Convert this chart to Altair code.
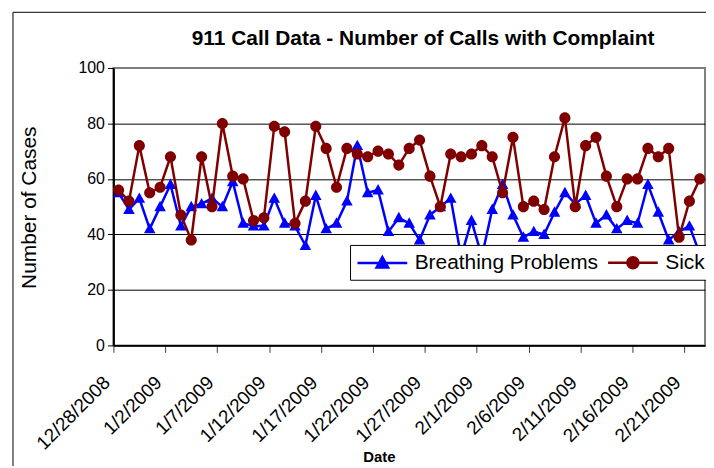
import altair as alt
import pandas as pd

# ---- data ----
dates = pd.date_range("2008-12-28 12:00", periods=57, freq="D").strftime("%Y-%m-%dT%H:%M:%S").tolist()
series_names = ["Breathing Problems", "Sick"]
breathing = [55, 49, 53, 42, 50, 58, 43, 50, 51, 53, 50, 59, 44, 43, 43, 53, 44, 43, 36,
             54, 42, 44, 52, 72, 55, 56, 41, 46, 44, 38, 47, 50, 53, 32, 45, 32, 49, 58,
             47, 39, 41, 40, 48, 55, 51, 54, 44, 47, 42, 45, 44, 58, 48, 38, 41, 43, 33]
sick = [56, 52, 72, 55, 57, 68, 47, 38, 68, 50, 80, 61, 60, 45, 46, 79, 77, 44, 52,
        79, 71, 57, 71, 69, 68, 70, 69, 65, 71, 74, 61, 50, 69, 68, 69, 72, 68, 55,
        75, 50, 52, 49, 68, 82, 50, 72, 75, 61, 50, 60, 60, 71, 68, 71, 39, 52, 60]
y_ticks = [0, 20, 40, 60, 80, 100]
tick_days = pd.date_range("2008-12-28", "2009-02-21", freq="5D")
colors = ["#0000FF", "#800000"]

df = pd.DataFrame({
    "date": dates + dates,
    "value": breathing + sick,
    "series": [series_names[0]] * len(dates) + [series_names[1]] * len(dates),
})

tick_values = [alt.DateTime(year=d.year, month=d.month, date=d.day) for d in tick_days]

tri_path = "M-2.5,0H2.5M0,-0.6L0.58,0.45L-0.58,0.45Z"
circ_path = "M-2.5,0H2.5M0.56,0A0.56,0.56,0,1,1,-0.56,0A0.56,0.56,0,1,1,0.56,0Z"

FONT = "Liberation Sans"

legend_kw = dict(
    orient="none", legendX=238, legendY=178, direction="horizontal",
    labelFontSize=21, labelFont=FONT, labelColor="black", labelLimit=400,
    symbolSize=400, symbolStrokeWidth=2.5, symbolOffset=15,
    labelOffset=21, columnPadding=4, padding=6,
    strokeColor="black", fillColor="white",
)

x_enc = alt.X(
    "date:T",
    scale=alt.Scale(domain=[alt.DateTime(year=2008, month=12, date=28),
                            alt.DateTime(year=2009, month=2, date=23)], nice=False),
    axis=alt.Axis(
        values=tick_values, format="%-m/%-d/%Y", formatType="time",
        labelAngle=315, labelAlign="right", labelBaseline="middle",
        labelFontSize=19, labelPadding=27, labelOffset=-7, labelOverlap=False,
        tickSize=7, tickColor="#404040", domainColor="black", domainWidth=2,
        grid=False, title="Date", titleFontSize=15, titleFontWeight="bold",
        titleX=267, titleY=117, titleAlign="center", titleBaseline="alphabetic",
    ),
)
y_enc = alt.Y(
    "value:Q",
    scale=alt.Scale(domain=[0, 100], nice=False),
    axis=alt.Axis(
        values=y_ticks, grid=True,
        gridColor={"condition": {"test": "datum.value === 100", "value": "#808080"}, "value": "black"},
        gridWidth=1, tickSize=6, tickColor="black", domainColor="black", domainWidth=2,
        labelFontSize=16, labelPadding=3,
        title="Number of Cases", titleFontSize=21, titleFontWeight="normal",
        titleX=-84, titleY=140, titleAlign="center", titleBaseline="middle",
    ),
)

base = alt.Chart(df).encode(x=x_enc, y=y_enc)

color_enc = alt.Color("series:N", title=None,
                      scale=alt.Scale(domain=series_names, range=colors),
                      legend=alt.Legend(**legend_kw))
stroke_enc = alt.Stroke("series:N", title=None,
                        scale=alt.Scale(domain=series_names, range=colors),
                        legend=alt.Legend(**legend_kw))
shape_enc = alt.Shape("series:N", title=None,
                      scale=alt.Scale(domain=series_names, range=[tri_path, circ_path]),
                      legend=alt.Legend(**legend_kw))

def series_layers(name, col):
    sub = base.transform_filter(alt.datum.series == name)
    line = sub.mark_line(color=col, strokeWidth=2.5)
    pts = sub.mark_point(filled=True, size=400, opacity=1, strokeWidth=0).encode(
        color=color_enc, stroke=stroke_enc, shape=shape_enc)
    return line, pts

lb, pb = series_layers(series_names[0], colors[0])
ls, ps = series_layers(series_names[1], colors[1])

frame = alt.Chart(pd.DataFrame({"k": [0]})).mark_rect(
    filled=False, stroke="black", strokeWidth=1, clip=False
).encode(x=alt.value(-101), x2=alt.value(800), y=alt.value(-56), y2=alt.value(700))

chart = alt.layer(frame, lb, pb, ls, ps).properties(
    width=595, height=279, autosize="none",
    padding={"left": 106, "top": 59, "right": 1, "bottom": 120},
    title=alt.Title("911 Call Data - Number of Calls with Complaint",
                    font=FONT, fontSize=21, fontWeight="bold", color="black",
                    anchor="middle", frame="group", dx=14, offset=-54, baseline="alphabetic"),
).configure_view(stroke="#808080", strokeWidth=2).configure_axis(
    labelFont=FONT, titleFont=FONT, labelColor="black", titleColor="black"
)

chart.save("out.html", embed_options={"renderer": "svg", "actions": False})
